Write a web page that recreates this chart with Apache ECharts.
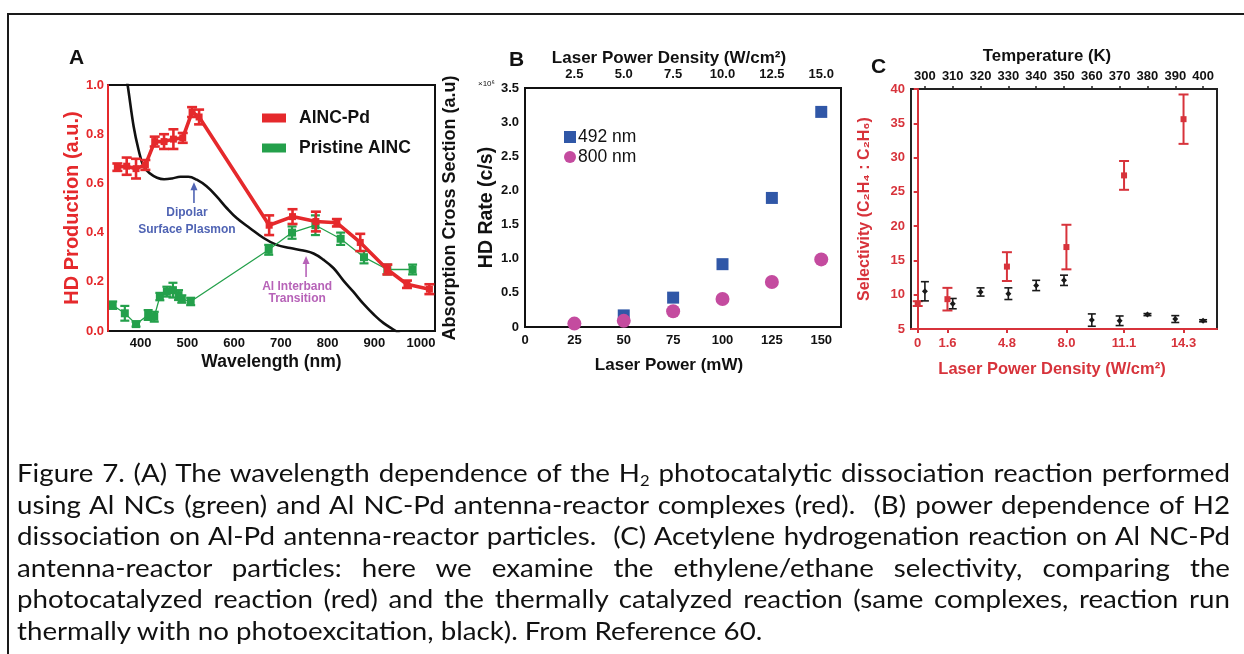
<!DOCTYPE html>
<html><head><meta charset="utf-8">
<script src="https://cdn.jsdelivr.net/npm/echarts@6/dist/echarts.min.js"></script>
<style>
html,body{margin:0;padding:0;background:#fff;}
#wrap{position:relative;width:1244px;height:654px;overflow:hidden;background:#fff;}
#chart{position:absolute;left:0;top:0;width:1244px;height:654px;}
#frameTop{position:absolute;left:7px;top:13px;width:1237px;height:0;border-top:2px solid #1a1a1a;}
#frameLeft{position:absolute;left:7px;top:13px;width:0;height:641px;border-left:2px solid #1a1a1a;}
#caption{position:absolute;left:17px;top:457px;font-family:Lato,'Noto Sans',sans-serif;color:#111;transform-origin:0 0;}
#caption .ln{text-align:justify;text-align-last:justify;height:31.6px;line-height:31.6px;white-space:normal;}
#caption .ln.last{text-align-last:left;}
#caption sub{font-size:0.6em;line-height:0;vertical-align:-0.25em;}
</style>
</head><body>
<div id="wrap">
<div id="chart"></div>
<div id="frameTop"></div><div id="frameLeft"></div>
<div id="caption"></div>
</div>
<script>
// ---------- Panel A data ----------
const aRedWl  = [350, 370, 390, 410, 430, 450, 470, 490, 510, 525, 675, 725, 775, 820, 870, 928, 970, 1018];
const aRedVal = [0.666, 0.67, 0.66, 0.675, 0.77, 0.77, 0.78, 0.785, 0.89, 0.87, 0.43, 0.465, 0.445, 0.44, 0.36, 0.25, 0.19, 0.17];
const aRedErr = [0.015, 0.035, 0.04, 0.02, 0.02, 0.03, 0.04, 0.02, 0.02, 0.03, 0.04, 0.03, 0.04, 0.015, 0.035, 0.02, 0.015, 0.02];
const aGreenWl  = [340, 366, 390, 416, 429, 441, 456, 469, 481, 488, 507, 674, 724, 774, 828, 878, 928, 982];
const aGreenVal = [0.105, 0.072, 0.028, 0.065, 0.058, 0.14, 0.16, 0.166, 0.146, 0.13, 0.12, 0.33, 0.40, 0.43, 0.375, 0.30, 0.25, 0.25];
const aGreenErr = [0.015, 0.03, 0.01, 0.02, 0.02, 0.015, 0.02, 0.03, 0.02, 0.015, 0.015, 0.02, 0.025, 0.04, 0.025, 0.025, 0.02, 0.02];
const absWl  = [355, 372, 385, 395, 406, 420, 435, 450, 467, 485, 502, 520, 541, 563, 584, 606, 634, 663, 691, 720, 748, 770, 791, 813, 834, 855, 877, 900, 920, 946, 960];
const absVal = [1.2, 1.0, 0.83, 0.74, 0.67, 0.64, 0.623, 0.617, 0.62, 0.627, 0.627, 0.615, 0.588, 0.546, 0.5, 0.458, 0.418, 0.378, 0.35, 0.337, 0.327, 0.315, 0.29, 0.255, 0.205, 0.16, 0.11, 0.065, 0.032, 0.0, -0.02];
const aXTicks = [400, 500, 600, 700, 800, 900, 1000];

// ---------- Panel B data ----------
const bPower492 = [50, 75, 100, 125, 150];
const bRate492  = [0.17, 0.43, 0.92, 1.89, 3.15];
const bPower800 = [25, 50, 75, 100, 125, 150];
const bRate800  = [0.05, 0.09, 0.23, 0.41, 0.66, 0.99];

// ---------- Panel C data ----------
const cPower    = [0, 1.6, 4.8, 8.0, 11.1, 14.3];
const cPhotoSel = [8.7, 9.35, 14.1, 16.95, 27.4, 35.6];
const cPhotoErr = [0.35, 1.65, 2.1, 3.25, 2.1, 3.6];
const cTemp     = [300, 310, 320, 330, 340, 350, 360, 370, 380, 390, 400];
const cThermSel = [10.5, 8.7, 10.4, 10.15, 11.35, 12.1, 6.3, 6.2, 7.1, 6.45, 6.2];
const cThermErr = [1.4, 0.75, 0.6, 0.85, 0.75, 0.75, 0.9, 0.7, 0.15, 0.5, 0.15];
const cPowerTicks = [0, 1.6, 4.8, 8.0, 11.1, 14.3];
const cTempTicks  = [300, 310, 320, 330, 340, 350, 360, 370, 380, 390, 400];

const captionLines = [
  'Figure 7. (A) The wavelength dependence of the H<sub>2</sub> photocatalytic dissociation reaction performed',
  'using Al NCs (green) and Al NC-Pd antenna-reactor complexes (red).&nbsp; (B) power dependence of H2',
  'dissociation on Al-Pd antenna-reactor particles.&nbsp; (C) Acetylene hydrogenation reaction on Al NC-Pd',
  'antenna-reactor particles: here we examine the ethylene/ethane selectivity, comparing the',
  'photocatalyzed reaction (red) and the thermally catalyzed reaction (same complexes, reaction run',
  'thermally with no photoexcitation, black). From Reference 60.'
];

// ---------- caption (justified lines, stretched like the source) ----------
(function(){
  const cap = document.getElementById('caption');
  const FS = 24.5;
  const c = document.createElement('canvas').getContext('2d');
  c.font = FS + 'px Lato';
  const plain = t => t.replace(/<sub>(.*?)<\/sub>/g, '$1').replace(/&nbsp;/g, ' ');
  const widths = captionLines.map(t => c.measureText(plain(t)).width);
  const wLast = widths[widths.length - 1];
  const wMax = Math.max.apply(null, widths.slice(0, -1));
  let s = Math.min(809 / wLast, 1200 / wMax);
  s = Math.max(0.8, Math.min(1.3, s));
  cap.style.fontSize = FS + 'px';
  cap.style.width = (1213 / s).toFixed(2) + 'px';
  cap.style.transform = 'scaleX(' + s.toFixed(4) + ')';
  cap.innerHTML = captionLines.map((t, i) => '<div class="ln' + (i === captionLines.length - 1 ? ' last' : '') + '">' + t + '</div>').join('');
})();

const FF = "'Liberation Sans', Arial, Helvetica, sans-serif";
const RED_A = '#e5292c', GREEN_A = '#24a04b', RED_C = '#d7333b', BLUE_B = '#3057a7', PINK_B = '#c44b9f';
const zip = (a, b) => a.map((v, i) => [v, b[i]]);
const zip3 = (a, b, c) => a.map((v, i) => [v, b[i], c[i]]);

function errRender(cap, color, width) {
  return function (params, api) {
    const x = api.value(0), y = api.value(1), e = api.value(2);
    const t = api.coord([x, y + e]), b = api.coord([x, y - e]);
    const style = { stroke: color, lineWidth: width };
    return { type: 'group', children: [
      { type: 'line', shape: { x1: t[0], y1: t[1], x2: b[0], y2: b[1] }, style },
      { type: 'line', shape: { x1: t[0] - cap / 2, y1: t[1], x2: t[0] + cap / 2, y2: t[1] }, style },
      { type: 'line', shape: { x1: b[0] - cap / 2, y1: b[1], x2: b[0] + cap / 2, y2: b[1] }, style }
    ]};
  };
}

const lbl = (color, extra) => Object.assign({ color, fontFamily: FF, fontWeight: 'bold', fontSize: 13 }, extra || {});
const nm = (color, size, extra) => Object.assign({ color, fontFamily: FF, fontWeight: 'bold', fontSize: size || 16 }, extra || {});
const line = (color, w) => ({ show: true, lineStyle: { color, width: w || 2 } });

const chart = echarts.init(document.getElementById('chart'), null, { renderer: 'canvas' });
const option = {
  animation: false,
  backgroundColor: 'transparent',
  grid: [
    { left: 108, top: 85, width: 327, height: 246, show: true, borderColor: '#111', borderWidth: 2, backgroundColor: 'transparent' },
    { left: 525, top: 88, width: 316, height: 239, show: true, borderColor: '#111', borderWidth: 2, backgroundColor: 'transparent' },
    { left: 911, top: 89, width: 306, height: 240, show: true, borderColor: '#222', borderWidth: 2, backgroundColor: 'transparent' }
  ],
  legend: [
    { data: [{ name: 'AlNC-Pd', icon: 'rect' }, { name: 'Pristine AlNC', icon: 'rect' }], orient: 'vertical', left: 257, top: 104,
      itemWidth: 24, itemHeight: 9, itemGap: 12, textStyle: { fontFamily: FF, fontWeight: 'bold', fontSize: 17.5, color: '#111', padding: [0, 0, 0, 8] } },
    { data: [{ name: '492 nm', icon: 'rect' }, { name: '800 nm', icon: 'circle' }], orient: 'vertical', left: 559, top: 123,
      itemWidth: 12, itemHeight: 12, itemGap: 2, textStyle: { fontFamily: FF, fontSize: 17.5, color: '#111', padding: [0, 0, 0, -3] } }
  ],
  xAxis: [
    { gridIndex: 0, type: 'value', min: 330, max: 1030, axisLine: line('#111'), axisTick: { show: false }, splitLine: { show: false },
      axisLabel: lbl('#111', { customValues: aXTicks, margin: 6, formatter: v => String(v) }),
      name: 'Wavelength (nm)', nameLocation: 'middle', nameGap: 22, nameTextStyle: nm('#111', 17.5) },
    { gridIndex: 1, type: 'value', min: 0, max: 160, interval: 25, axisLine: line('#111'), axisTick: { show: false }, splitLine: { show: false },
      axisLabel: lbl('#111', { margin: 7, formatter: v => String(v) }),
      name: 'Laser Power (mW)', nameLocation: 'middle', nameGap: 30, nameTextStyle: nm('#111', 17, { padding: [0, 28, 0, 0] }) },
    { gridIndex: 1, type: 'value', position: 'top', min: 0, max: 16, interval: 2.5, axisLine: line('#111'), axisTick: { show: false }, splitLine: { show: false },
      axisLabel: lbl('#111', { margin: 7, formatter: v => v === 0 ? '' : v.toFixed(1) }),
      name: 'Laser Power Density (W/cm²)', nameLocation: 'middle', nameGap: 21, nameTextStyle: nm('#111', 17, { padding: [0, 28, 0, 0] }) },
    { gridIndex: 2, type: 'value', min: -0.36, max: 16.1, axisLine: line(RED_C), splitLine: { show: false }, z: 5,
      axisTick: { show: true, customValues: cPowerTicks, length: 4, lineStyle: { color: RED_C, width: 2 } },
      axisLabel: lbl(RED_C, { customValues: cPowerTicks, margin: 8, formatter: v => v === 0 ? '0' : v.toFixed(1) }),
      name: 'Laser Power Density (W/cm²)', nameLocation: 'middle', nameGap: 32, nameTextStyle: nm(RED_C, 16.5, { padding: [0, 24, 0, 0] }) },
    { gridIndex: 2, type: 'value', position: 'top', min: 295, max: 405, axisLine: line('#222'), splitLine: { show: false },
      axisTick: { show: true, customValues: cTempTicks, length: 3, lineStyle: { color: '#222', width: 1.5 } },
      axisLabel: lbl('#111', { customValues: cTempTicks, margin: 6 }),
      name: 'Temperature (K)', nameLocation: 'middle', nameGap: 24, nameTextStyle: nm('#111', 16.8, { padding: [0, 34, 0, 0] }) }
  ],
  yAxis: [
    { gridIndex: 0, type: 'value', min: 0, max: 1, interval: 0.2, axisLine: line(RED_A), axisTick: { show: false }, splitLine: { show: false }, z: 5,
      axisLabel: lbl(RED_A, { margin: 4, formatter: v => v.toFixed(1) }),
      name: 'HD Production (a.u.)', nameLocation: 'middle', nameGap: 16, nameRotate: 90, nameTextStyle: nm(RED_A, 20) },
    { gridIndex: 0, type: 'value', position: 'right', min: 0, max: 1, axisLine: line('#111'), axisTick: { show: false }, axisLabel: { show: false }, splitLine: { show: false },
      name: 'Absorption Cross Section (a.u)', nameLocation: 'middle', nameGap: 6, nameRotate: 90, nameTextStyle: nm('#111', 18) },
    { gridIndex: 1, type: 'value', min: 0, max: 3.5, interval: 0.5, axisLine: line('#111'), axisTick: { show: false }, splitLine: { show: false },
      axisLabel: lbl('#111', { margin: 6, formatter: v => v === 0 ? '0' : v.toFixed(1) }),
      name: 'HD Rate (c/s)', nameLocation: 'middle', nameGap: 27, nameRotate: 90, nameTextStyle: nm('#111', 19.5) },
    { gridIndex: 2, type: 'value', min: 5, max: 40, interval: 5, axisLine: line(RED_C), splitLine: { show: false }, z: 5,
      axisTick: { show: true, length: 4, lineStyle: { color: RED_C, width: 2 } },
      axisLabel: lbl(RED_C, { margin: 6 }),
      name: 'Selectivity (C₂H₄ : C₂H₆)', nameLocation: 'middle', nameGap: 38, nameRotate: 90, nameTextStyle: nm(RED_C, 16) }
  ],
  series: [
    { name: 'Absorption', type: 'line', xAxisIndex: 0, yAxisIndex: 1, data: zip(absWl, absVal), smooth: 0.4, symbol: 'none',
      lineStyle: { color: '#111', width: 2.6 }, itemStyle: { color: '#111' }, clip: true, z: 2 },
    { name: 'Pristine AlNC', type: 'line', xAxisIndex: 0, yAxisIndex: 0, data: zip(aGreenWl, aGreenVal), symbol: 'rect', symbolSize: 8,
      lineStyle: { color: GREEN_A, width: 1.3 }, itemStyle: { color: GREEN_A }, z: 3 },
    { name: 'Pristine AlNC err', type: 'custom', xAxisIndex: 0, yAxisIndex: 0, data: zip3(aGreenWl, aGreenVal, aGreenErr),
      renderItem: errRender(9, GREEN_A, 2.2), encode: { x: 0, y: 1 }, z: 3 },
    { name: 'AlNC-Pd', type: 'line', xAxisIndex: 0, yAxisIndex: 0, data: zip(aRedWl, aRedVal), symbol: 'rect', symbolSize: 7,
      lineStyle: { color: RED_A, width: 3.6 }, itemStyle: { color: RED_A }, z: 4 },
    { name: 'AlNC-Pd err', type: 'custom', xAxisIndex: 0, yAxisIndex: 0, data: zip3(aRedWl, aRedVal, aRedErr),
      renderItem: errRender(10, RED_A, 2.6), encode: { x: 0, y: 1 }, z: 4 },

    { name: '492 nm', type: 'scatter', xAxisIndex: 1, yAxisIndex: 2, data: zip(bPower492, bRate492), symbol: 'rect', symbolSize: 12,
      itemStyle: { color: BLUE_B, opacity: 1 }, z: 3 },
    { name: '800 nm', type: 'scatter', xAxisIndex: 1, yAxisIndex: 2, data: zip(bPower800, bRate800), symbol: 'circle', symbolSize: 14,
      itemStyle: { color: PINK_B, opacity: 1 }, z: 4 },

    { name: 'Photo err', type: 'custom', xAxisIndex: 3, yAxisIndex: 3, data: zip3(cPower, cPhotoSel, cPhotoErr),
      renderItem: errRender(10, RED_C, 2), encode: { x: 0, y: 1 }, z: 3 },
    { name: 'Photo', type: 'scatter', xAxisIndex: 3, yAxisIndex: 3, data: zip(cPower, cPhotoSel), symbol: 'rect', symbolSize: 6,
      itemStyle: { color: RED_C, opacity: 1 }, z: 4 },
    { name: 'Thermal err', type: 'custom', xAxisIndex: 4, yAxisIndex: 3, data: zip3(cTemp, cThermSel, cThermErr),
      renderItem: errRender(8, '#1a1a1a', 1.6), encode: { x: 0, y: 1 }, z: 3 },
    { name: 'Thermal', type: 'scatter', xAxisIndex: 4, yAxisIndex: 3, data: zip(cTemp, cThermSel), symbol: 'diamond', symbolSize: 6,
      itemStyle: { color: '#1a1a1a', opacity: 1 }, z: 4 }
  ]
};
chart.setOption(option);

// ---------- annotations (positioned through the axes) ----------
const P = (x, y) => chart.convertToPixel({ xAxisIndex: 0, yAxisIndex: 0 }, [x, y]);
const d1 = P(499, 0.48), d2 = P(499, 0.41), da0 = P(514, 0.52), da1 = P(514, 0.605);
const t1 = P(735, 0.18), t2 = P(735, 0.13), ta0 = P(754, 0.22), ta1 = P(754, 0.305);
const BLUE_T = '#5064b4', MAG_T = '#b763b8';
const annText = (p, s, c) => ({ type: 'text', x: p[0], y: p[1], style: { text: s, fill: c, font: "bold 12px " + FF, textAlign: 'center', textVerticalAlign: 'middle' } });
const arrow = (a, b, c) => ([
  { type: 'line', shape: { x1: a[0], y1: a[1], x2: b[0], y2: b[1] + 5 }, style: { stroke: c, lineWidth: 1.6 } },
  { type: 'polygon', shape: { points: [[b[0], b[1]], [b[0] - 3.5, b[1] + 8], [b[0] + 3.5, b[1] + 8]] }, style: { fill: c } }
]);
const bAxisPt = chart.convertToPixel({ yAxisIndex: 2 }, 3.5);
chart.setOption({ graphic: [
  annText(d1, 'Dipolar', BLUE_T), annText(d2, 'Surface Plasmon', BLUE_T), ...arrow(da0, da1, BLUE_T),
  annText(t1, 'Al Interband', MAG_T), annText(t2, 'Transition', MAG_T), ...arrow(ta0, ta1, MAG_T),
  { type: 'text', x: 69, y: 48, style: { text: 'A', fill: '#111', font: "bold 21px " + FF } },
  { type: 'text', x: 509, y: 50, style: { text: 'B', fill: '#111', font: "bold 21px " + FF } },
  { type: 'text', x: 871, y: 57, style: { text: 'C', fill: '#111', font: "bold 21px " + FF } },
  { type: 'text', x: 478, y: bAxisPt - 4, style: { text: '×10⁶', fill: '#111', font: "8px " + FF, textVerticalAlign: 'middle' } }
]});
</script>
</body></html>
